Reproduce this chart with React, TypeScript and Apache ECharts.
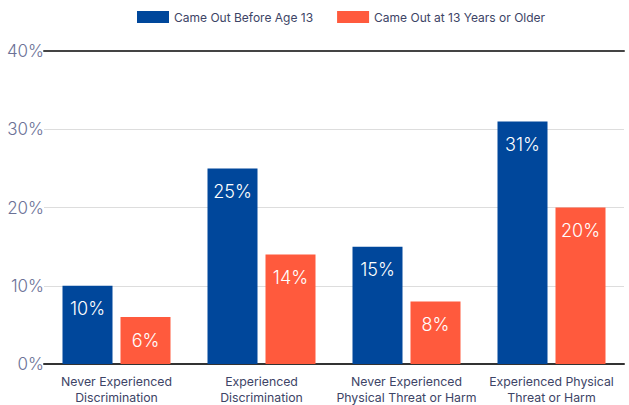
import React, { useEffect, useRef } from "react";
import * as echarts from "echarts";

const categories = [
  "Never Experienced\nDiscrimination",
  "Experienced\nDiscrimination",
  "Never Experienced\nPhysical Threat or Harm",
  "Experienced Physical\nThreat or Harm",
];
const seriesNames = ["Came Out Before Age 13", "Came Out at 13 Years or Older"];
const beforeAge13 = [10, 25, 15, 31];
const after13 = [6, 14, 8, 20];
const yTicks = [0, 10, 20, 30, 40];

const BLUE = "#00479B";
const ORANGE = "#FF5A3D";
const TEXT = "#3d4466";
const FONT = "Inter, 'Noto Sans', sans-serif";

export default function App() {
  const ref = useRef<HTMLDivElement>(null);
  useEffect(() => {
    if (!ref.current) return;
    const chart = echarts.init(ref.current, undefined, { renderer: "svg" });
    const labelCfg = {
      show: true,
      position: "insideTop",
      distance: 14,
      color: "#ffffff",
      fontSize: 18,
      fontWeight: 300,
      fontFamily: FONT,
      formatter: (p: any) => p.value + "%",
    };
    chart.setOption({
      animation: false,
      textStyle: { fontFamily: FONT },
      legend: {
        left: 132,
        top: 6,
        icon: "rect",
        itemWidth: 32,
        itemHeight: 12,
        itemGap: 24,
        textStyle: { color: TEXT, fontSize: 12, fontFamily: FONT },
        data: seriesNames,
      },
      grid: { left: 44, right: 5, top: 51, bottom: 40 },
      xAxis: [
        {
          type: "category",
          data: categories,
          axisTick: { show: false },
          axisLine: { show: true, lineStyle: { color: "#333", width: 2 } },
          axisLabel: {
            color: TEXT,
            fontSize: 12.3,
            lineHeight: 16,
            margin: 9,
            interval: 0,
            fontFamily: FONT,
          },
        },
        {
          type: "category",
          position: "top",
          data: categories,
          axisTick: { show: false },
          axisLabel: { show: false },
          axisLine: { show: true, lineStyle: { color: "#444", width: 2 } },
        },
      ],
      yAxis: {
        type: "value",
        min: yTicks[0],
        max: yTicks[yTicks.length - 1],
        interval: 10,
        axisLine: { show: false },
        axisTick: { show: false },
        splitLine: { show: true, lineStyle: { color: "#dddddd", width: 1 } },
        axisLabel: {
          formatter: "{value}%",
          color: "#6b7196",
          fontSize: 17,
          fontWeight: 300,
          margin: 0,
          fontFamily: FONT,
        },
      },
      series: [
        {
          name: seriesNames[0],
          type: "bar",
          data: beforeAge13,
          barWidth: 50,
          barGap: "16%",
          itemStyle: { color: BLUE },
          label: labelCfg,
        },
        {
          name: seriesNames[1],
          type: "bar",
          data: after13,
          barWidth: 50,
          barGap: "16%",
          itemStyle: { color: ORANGE },
          label: labelCfg,
        },
      ],
    });
    return () => chart.dispose();
  }, []);
  return <div ref={ref} style={{ width: 629, height: 405, position: "absolute", left: 0, top: 0 }} />;
}
